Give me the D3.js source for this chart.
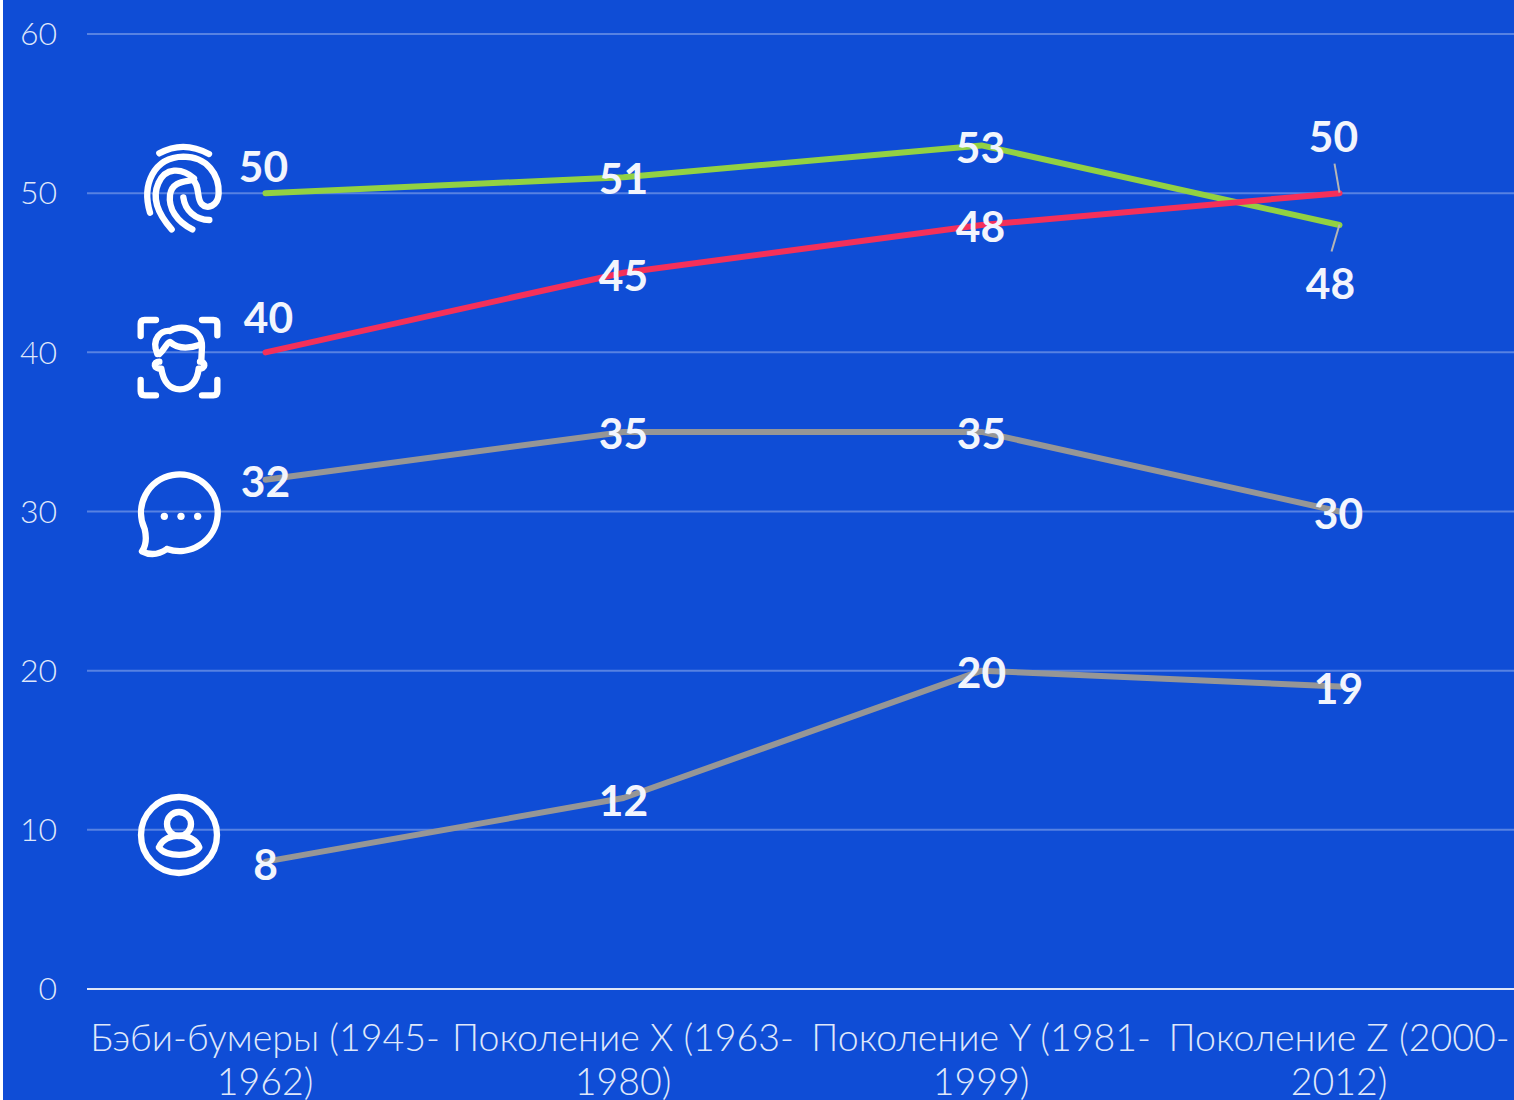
<!DOCTYPE html>
<html>
<head>
<meta charset="utf-8">
<script src="https://cdn.jsdelivr.net/npm/d3@7"></script>
<style>
  html, body { margin: 0; padding: 0; background: #fff; overflow: hidden; }
  svg { display: block; font-family: Lato, "Open Sans", sans-serif; }
</style>
</head>
<body>
<div id="chart"></div>
<script>
const categories = ["Бэби-бумеры (1945-1962)", "Поколение X (1963-1980)", "Поколение Y (1981-1999)", "Поколение Z (2000-2012)"];
const catLines = [["Бэби-бумеры (1945-", "1962)"], ["Поколение X (1963-", "1980)"], ["Поколение Y (1981-", "1999)"], ["Поколение Z (2000-", "2012)"]];
const yTicks = [0, 10, 20, 30, 40, 50, 60];
const fingerprint = [50, 51, 53, 48];
const face = [40, 45, 48, 50];
const chat = [32, 35, 35, 30];
const person = [8, 12, 20, 19];

const width = 1514, height = 1100;
const margin = { top: 33.5, left: 87, bottom: 111.5 };

const svg = d3.select("#chart").append("svg")
  .attr("width", width)
  .attr("height", height);

svg.append("rect")
  .attr("x", 3).attr("width", width - 3).attr("height", height)
  .attr("fill", "#0f4dd6");

const x = d3.scaleBand().domain(categories).range([margin.left, margin.left + 358 * 4]);
const y = d3.scaleLinear().domain([0, 60]).range([height - margin.bottom, margin.top]);
const cx = (i) => x(categories[i]) + x.bandwidth() / 2 - 0.5;

// y axis + grid
const yAxis = svg.append("g")
  .attr("transform", `translate(${margin.left},0)`)
  .call(d3.axisLeft(y).tickValues(yTicks).tickSize(0).tickPadding(30));
yAxis.select(".domain").remove();
yAxis.selectAll("text")
  .attr("y", 1)
  .attr("font-family", "Lato").attr("font-weight", 300).attr("font-size", 32)
  .attr("fill", "#dfe7fa");
yAxis.selectAll(".tick line")
  .attr("x2", width - margin.left)
  .attr("stroke", d => d === 0 ? "#dfe6f8" : "#fff")
  .attr("stroke-opacity", d => d === 0 ? 1 : 0.3)
  .attr("stroke-width", 2);

// x axis, two-line labels
const xAxis = svg.append("g")
  .attr("transform", `translate(-1,${y(0)})`)
  .call(d3.axisBottom(x).tickSize(0));
xAxis.select(".domain").remove();
xAxis.selectAll("text").each(function(d, i) {
  const t = d3.select(this).text(null)
    .attr("dy", null)
    .attr("font-family", "Lato").attr("font-weight", 300).attr("font-size", 37.5)
    .attr("fill", "#dfe7fa");
  catLines[i].forEach((s, j) => {
    t.append("tspan").attr("x", 0).attr("y", 62 + j * 44.5).text(s);
  });
});

// lines
const series = [
  { values: person, color: "#969696" },
  { values: chat, color: "#969696" },
  { values: fingerprint, color: "#92d143" },
  { values: face, color: "#f4305a" }
];
const line = d3.line().x((d, i) => cx(i)).y(d => y(d) + 0.5);
svg.selectAll("path.series").data(series).join("path")
  .attr("class", "series")
  .attr("d", d => line(d.values))
  .attr("fill", "none")
  .attr("stroke", d => d.color)
  .attr("stroke-width", 6)
  .attr("stroke-linecap", "round")
  .attr("stroke-linejoin", "round");

// leader lines for the last two labels
const leaders = [
  { value: 50, x2: -5, y2: -29 },
  { value: 48, x2: -8, y2: 27 }
];
svg.selectAll("line.leader").data(leaders).join("line")
  .attr("class", "leader")
  .attr("x1", cx(3)).attr("y1", d => y(d.value))
  .attr("x2", d => cx(3) + d.x2).attr("y2", d => y(d.value) + d.y2)
  .attr("stroke", "#b5b5b5").attr("stroke-width", 2);

// data labels, offsets are from the point to the label centre
const labelOffsets = new Map([
  [fingerprint, [[-2, -26], [0, 2], [-1, 3], [-9, 59]]],
  [face, [[3, -34], [0, 3], [-1, 2], [-6, -56]]],
  [chat, [[0, 3], [0, 2], [0, 2], [-1, 3]]],
  [person, [[0, 4], [0, 3], [0, 3], [-1, 3]]]
]);
[fingerprint, face, chat, person].forEach(vals => {
  svg.append("g").selectAll("text").data(vals).join("text")
    .attr("x", (d, i) => cx(i) + labelOffsets.get(vals)[i][0])
    .attr("y", (d, i) => y(d) + labelOffsets.get(vals)[i][1])
    .attr("dy", "0.36em")
    .attr("text-anchor", "middle")
    .attr("font-family", "Lato").attr("font-weight", 700).attr("font-size", 42.5)
    .attr("fill", "#f2f5fd")
    .text(d => d);
});

// icons, drawn at 3x and scaled down
const icon = (tx, ty) => svg.append("g")
  .attr("transform", `translate(${tx},${ty}) scale(${1 / 3})`)
  .attr("fill", "none").attr("stroke", "#fff").attr("stroke-width", 19)
  .attr("stroke-linecap", "round").attr("stroke-linejoin", "round");

const fp = icon(120, 130);
[
  "M118 70 Q190 30 267 72",
  "M90 248 C65 165 100 82 190 80 C262 80 298 135 296 190 C294 228 262 240 245 222 C228 205 242 165 215 145",
  "M155 298 C112 250 95 205 115 160 C135 112 185 112 222 145",
  "M217 298 C170 275 145 235 150 195 C156 152 200 155 215 150",
  "M190 202 C195 240 225 270 268 270"
].forEach(d => fp.append("path").attr("d", d));

const fc = icon(120, 130);
[
  "M62 618 V582 Q62 570 74 570 H108",
  "M246 570 H280 Q292 570 292 582 V616",
  "M62 750 V784 Q62 796 74 796 H108",
  "M246 796 H280 Q292 796 292 784 V750",
  "M112 672 C92 625 125 600 150 603 C175 583 248 590 246 650 L244 690",
  "M118 672 C135 658 138 640 150 636 C175 658 210 655 238 645",
  "M118 695 C98 695 100 718 124 716 C130 755 150 778 180 778 C210 778 232 755 236 716 C258 718 258 695 240 695"
].forEach(d => fc.append("path").attr("d", d));

const ct = icon(122, 464);
ct.append("path").attr("d", "M135 255 A115 115 0 1 0 68 195 C75 225 72 245 60 262 C85 275 110 272 135 255");
ct.selectAll("circle").data([127, 177, 227]).join("circle")
  .attr("cx", d => d).attr("cy", 157).attr("r", 11)
  .attr("fill", "#fff").attr("stroke", "none");

const pr = icon(120, 460);
pr.append("circle").attr("cx", 177).attr("cy", 1125).attr("r", 114);
pr.append("circle").attr("cx", 177).attr("cy", 1092).attr("r", 36);
pr.append("path").attr("d", "M117 1162 C135 1115 220 1115 238 1162 C220 1192 135 1192 117 1162");
</script>
</body>
</html>
